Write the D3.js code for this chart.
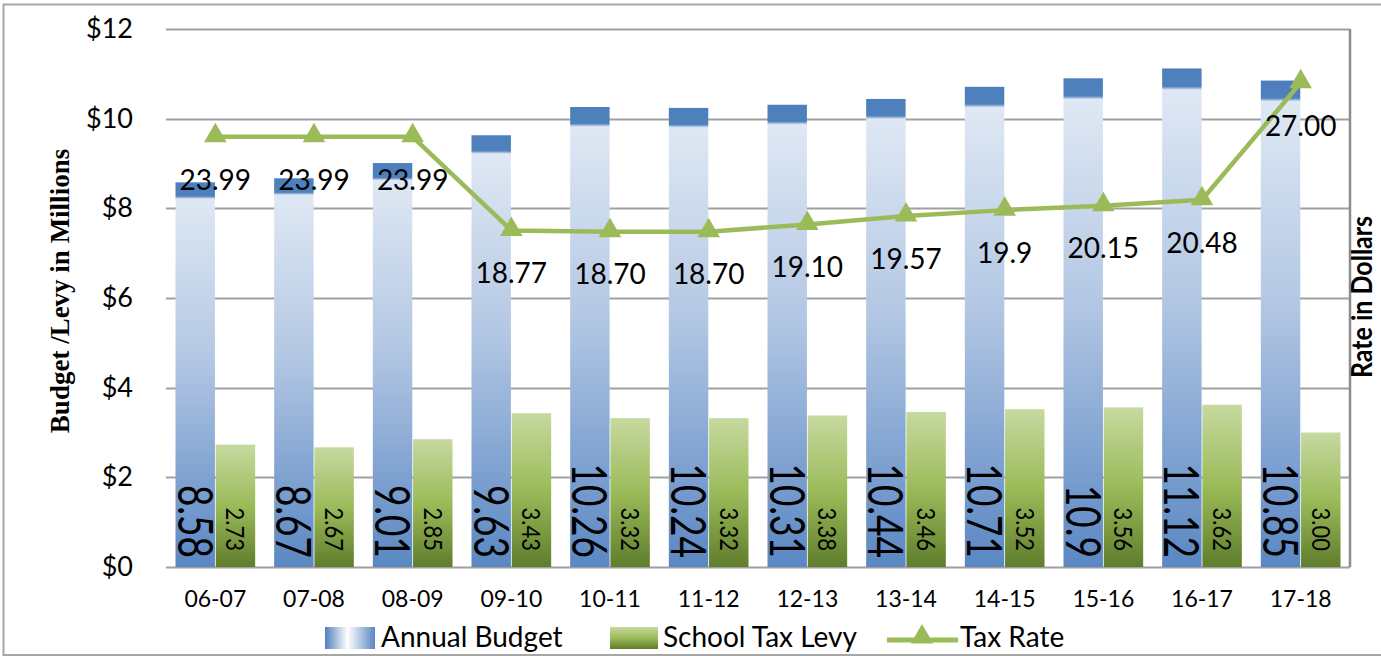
<!DOCTYPE html>
<html>
<head>
<meta charset="utf-8">
<style>
  body { margin: 0; background: #fff; }
</style>
</head>
<body>
<svg width="1381" height="656" font-family="Lato, 'Open Sans', sans-serif"></svg>
<script src="https://d3js.org/d3.v7.min.js"></script>
<script>
  const years = ["06-07", "07-08", "08-09", "09-10", "10-11", "11-12", "12-13", "13-14", "14-15", "15-16", "16-17", "17-18"];
  const budget = [8.58, 8.67, 9.01, 9.63, 10.26, 10.24, 10.31, 10.44, 10.71, 10.9, 11.12, 10.85];
  const budgetLabels = ["8.58", "8.67", "9.01", "9.63", "10.26", "10.24", "10.31", "10.44", "10.71", "10.9", "11.12", "10.85"];
  const levy = [2.73, 2.67, 2.85, 3.43, 3.32, 3.32, 3.38, 3.46, 3.52, 3.56, 3.62, 3.00];
  const rate = [23.99, 23.99, 23.99, 18.77, 18.70, 18.70, 19.10, 19.57, 19.9, 20.15, 20.48, 27.00];
  const rateLabels = ["23.99", "23.99", "23.99", "18.77", "18.70", "18.70", "19.10", "19.57", "19.9", "20.15", "20.48", "27.00"];
  const leftTicks = [0, 2, 4, 6, 8, 10, 12];

  const svg = d3.select("svg");
  const plot = { left: 166, right: 1350, top: 29, bottom: 567 };

  const x = d3.scaleBand().domain(years).range([plot.left, plot.right]);
  const x1 = d3.scaleBand().domain(["budget", "levy"]).range([9.5, x.bandwidth() - 9.5]).paddingInner(0.02);
  const y = d3.scaleLinear().domain([0, 12]).range([plot.bottom, plot.top]);
  const yR = d3.scaleLinear().domain([0, 30]).range([plot.bottom, plot.top]);

  // gradients
  const defs = svg.append("defs");
  const gb = defs.append("linearGradient").attr("id", "gBudget").attr("x1", 0).attr("y1", 0).attr("x2", 0).attr("y2", 1);
  gb.append("stop").attr("offset", 0).attr("stop-color", "#4d7fbc");
  gb.append("stop").attr("offset", 0.036).attr("stop-color", "#4f81bd");
  gb.append("stop").attr("offset", 0.043).attr("stop-color", "#dfe8f4");
  gb.append("stop").attr("offset", 0.45).attr("stop-color", "#b4c8e4");
  gb.append("stop").attr("offset", 1).attr("stop-color", "#5a87c3");
  const gl = defs.append("linearGradient").attr("id", "gLevy").attr("x1", 0).attr("y1", 0).attr("x2", 0).attr("y2", 1);
  gl.append("stop").attr("offset", 0).attr("stop-color", "#c6d9a0");
  gl.append("stop").attr("offset", 0.5).attr("stop-color", "#9bbb59");
  gl.append("stop").attr("offset", 1).attr("stop-color", "#5f7d2c");
  const gs = defs.append("linearGradient").attr("id", "gSwatch").attr("x1", 0).attr("y1", 0).attr("x2", 1).attr("y2", 0);
  gs.append("stop").attr("offset", 0).attr("stop-color", "#4f81bd");
  gs.append("stop").attr("offset", 0.45).attr("stop-color", "#ffffff");
  gs.append("stop").attr("offset", 1).attr("stop-color", "#5a87c3");

  // chart border (right edge runs off the picture)
  svg.append("path").attr("d", "M1390,4.5H3.5V655H1390")
    .attr("fill", "none").attr("stroke", "#a6a6a6").attr("stroke-width", 2);

  // grid lines
  svg.append("g").selectAll("line").data(leftTicks).join("line")
    .attr("x1", plot.left).attr("x2", plot.right)
    .attr("y1", d => Math.round(y(d)) + 0.5).attr("y2", d => Math.round(y(d)) + 0.5)
    .attr("stroke", "#a0a0a0").attr("stroke-width", 2);

  // right axis line
  svg.append("line").attr("x1", plot.right).attr("x2", plot.right)
    .attr("y1", plot.top).attr("y2", plot.bottom).attr("stroke", "#8c8c8c").attr("stroke-width", 2.5);

  // left axis
  const yAxis = svg.append("g").attr("transform", `translate(${plot.left - 30},0)`)
    .call(d3.axisLeft(y).tickValues(leftTicks).tickSize(0).tickFormat(d => "$" + d));
  yAxis.select(".domain").remove();
  yAxis.selectAll("text").attr("font-size", 27).attr("fill", "#000").attr("font-family", "Lato");

  // x axis
  const xAxis = svg.append("g").attr("transform", `translate(0,${plot.bottom + 21})`)
    .call(d3.axisBottom(x).tickSize(0));
  xAxis.select(".domain").remove();
  xAxis.selectAll("text").attr("font-size", 23).attr("fill", "#000").attr("font-family", "Lato");

  // bars
  const groups = svg.append("g").selectAll("g").data(years).join("g")
    .attr("transform", d => `translate(${x(d)},0)`);

  groups.append("rect")
    .attr("x", x1("budget")).attr("width", x1.bandwidth())
    .attr("y", (d, i) => y(budget[i])).attr("height", (d, i) => y(0) - y(budget[i]))
    .attr("fill", "url(#gBudget)");
  groups.append("rect")
    .attr("x", x1("levy")).attr("width", x1.bandwidth())
    .attr("y", (d, i) => y(levy[i])).attr("height", (d, i) => y(0) - y(levy[i]))
    .attr("fill", "url(#gLevy)");

  // bar value labels (rotated, stretched like the original)
  groups.append("text")
    .attr("transform", d => `translate(${x1("budget") + x1.bandwidth() / 2},${plot.bottom - 9}) rotate(90) scale(1,1.32)`)
    .attr("text-anchor", "end").attr("dy", "0.36em")
    .attr("font-size", 37).attr("fill", "#000")
    .text((d, i) => budgetLabels[i]);
  groups.append("text")
    .attr("transform", d => `translate(${x1("levy") + x1.bandwidth() / 2},${plot.bottom - 16}) rotate(90) scale(1,1.15)`)
    .attr("text-anchor", "end").attr("dy", "0.36em")
    .attr("font-size", 22).attr("fill", "#000")
    .text((d, i) => levy[i].toFixed(2));

  // tax rate line
  const cx = (d, i) => x(years[i]) + x.bandwidth() / 2;
  const line = d3.line().x((d, i) => cx(d, i)).y(d => yR(d));
  svg.append("path").datum(rate).attr("d", line)
    .attr("fill", "none").attr("stroke", "#9bbb59").attr("stroke-width", 4.5).attr("stroke-linejoin", "round");
  const tri = d3.symbol().type(d3.symbolTriangle).size(220);
  svg.append("g").selectAll("path").data(rate).join("path")
    .attr("d", tri)
    .attr("transform", (d, i) => `translate(${cx(d, i)},${yR(d) - 1})`)
    .attr("fill", "#9bbb59");
  svg.append("g").selectAll("text").data(rate).join("text")
    .attr("x", (d, i) => cx(d, i)).attr("y", d => yR(d) + 43)
    .attr("text-anchor", "middle").attr("dy", "0.35em")
    .attr("font-size", 28).attr("fill", "#000")
    .text((d, i) => rateLabels[i]);

  // axis titles
  svg.append("text")
    .attr("transform", "translate(60,291) rotate(-90)")
    .attr("text-anchor", "middle").attr("dy", "0.35em")
    .style("font-family", "'Liberation Serif', 'DejaVu Serif', serif")
    .attr("font-weight", "bold").attr("font-size", 27)
    .text("Budget /Levy in Millions");
  svg.append("text")
    .attr("transform", "translate(1362,297) rotate(-90) scale(1,1.15)")
    .attr("text-anchor", "middle").attr("dy", "0.35em")
    .attr("font-weight", "bold").attr("font-size", 25)
    .text("Rate in Dollars");

  // legend
  const leg = svg.append("g").attr("transform", "translate(0,637)");
  leg.append("rect").attr("x", 325).attr("y", -10).attr("width", 50).attr("height", 22).attr("fill", "url(#gSwatch)");
  leg.append("text").attr("x", 381).attr("y", 0).attr("dy", "0.36em").attr("font-size", 28).text("Annual Budget");
  leg.append("rect").attr("x", 610).attr("y", -10).attr("width", 48).attr("height", 22).attr("fill", "url(#gLevy)");
  leg.append("text").attr("x", 663).attr("y", 0).attr("dy", "0.36em").attr("font-size", 28).text("School Tax Levy");
  leg.append("line").attr("x1", 887).attr("x2", 958).attr("y1", 3).attr("y2", 3)
    .attr("stroke", "#9bbb59").attr("stroke-width", 5);
  leg.append("path").attr("d", tri).attr("transform", "translate(922,0)").attr("fill", "#9bbb59");
  leg.append("text").attr("x", 960).attr("y", 0).attr("dy", "0.36em").attr("font-size", 28).text("Tax Rate");
</script>
</body>
</html>
